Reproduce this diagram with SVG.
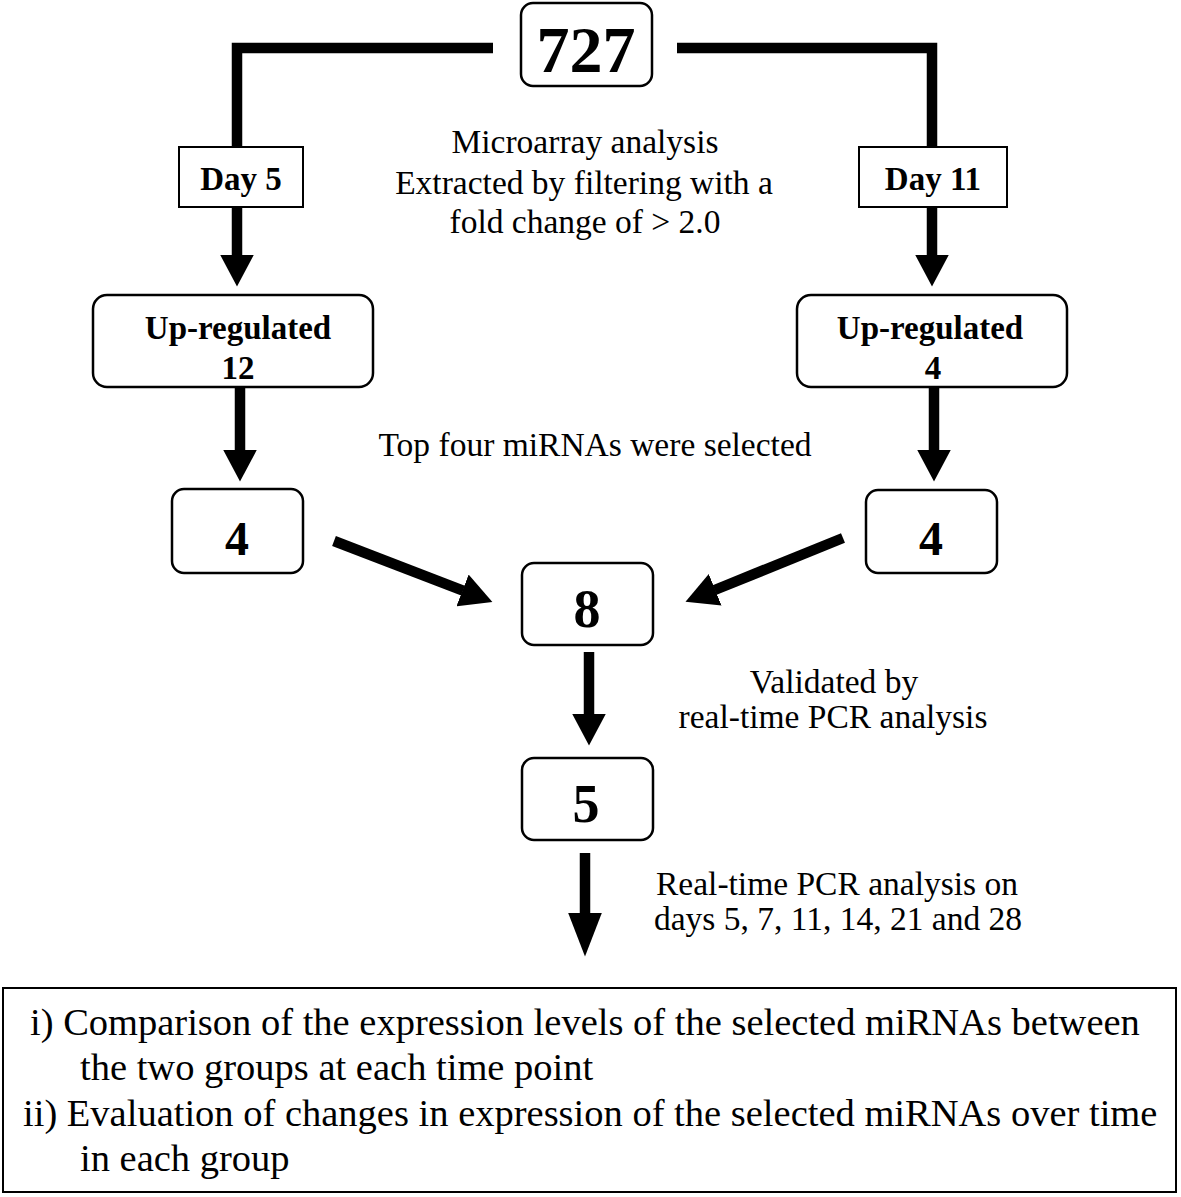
<svg xmlns="http://www.w3.org/2000/svg" width="1181" height="1197" viewBox="0 0 1181 1197">
<style>
.box{fill:#fff;stroke:#000;stroke-width:2.5}
.sq{fill:#fff;stroke:#000;stroke-width:2}
.b{font-family:"Liberation Serif","Times New Roman",serif;font-weight:bold;fill:#000;text-anchor:middle}
.r{font-family:"Liberation Serif","Times New Roman",serif;fill:#000;font-size:33.5px;text-anchor:middle}
.bt{font-family:"Liberation Serif","Times New Roman",serif;fill:#000;font-size:38.5px}
.ln{fill:none;stroke:#000;stroke-width:10.5;stroke-linejoin:miter}
.ar{fill:none;stroke:#000;stroke-width:10.5;marker-end:url(#ah)}
.arL{fill:none;stroke:#000;stroke-width:10.5;marker-end:url(#ahL)}
</style>
<defs>
<marker id="ah" markerUnits="userSpaceOnUse" viewBox="0 0 32 34" markerWidth="32" markerHeight="34" refX="0.5" refY="17" orient="auto"><path d="M0,0 L32,17 L0,34 Z" fill="#000"/></marker>
<marker id="ahL" markerUnits="userSpaceOnUse" viewBox="0 0 44 34" markerWidth="44" markerHeight="34" refX="0.5" refY="17" orient="auto"><path d="M0,0 L44,17 L0,34 Z" fill="#000"/></marker>
</defs>
<rect width="1181" height="1197" fill="#fff"/>
<g id="connectors">
<path class="ln" d="M493,48 H237 V147"/>
<path class="ln" d="M677,48 H932 V147"/>
<line class="ar" x1="237" y1="207" x2="237" y2="255"/>
<line class="ar" x1="932" y1="207" x2="932" y2="255"/>
<line class="ar" x1="240" y1="387" x2="240" y2="450"/>
<line class="ar" x1="934" y1="387" x2="934" y2="450"/>
<line class="ar" x1="334" y1="541" x2="463" y2="590.6"/>
<line class="ar" x1="843" y1="538" x2="714.7" y2="590"/>
<line class="ar" x1="589" y1="652" x2="589" y2="714"/>
<line class="arL" x1="585" y1="853" x2="585" y2="913"/>
</g>
<g id="node-727"><rect class="box" x="521" y="3" width="131" height="83" rx="12"/><text class="b" x="586" y="72" font-size="66">727</text></g>
<g id="node-day5"><rect class="sq" x="179" y="147" width="124" height="60"/><text class="b" x="241" y="190" font-size="33">Day 5</text></g>
<g id="node-day11"><rect class="sq" x="859" y="147" width="148" height="60"/><text class="b" x="933" y="190" font-size="33">Day 11</text></g>
<g id="node-up12"><rect class="box" x="93" y="295" width="280" height="92" rx="14"/><text class="b" x="238" y="339" font-size="33">Up-regulated</text><text class="b" x="238" y="379" font-size="33">12</text></g>
<g id="node-up4"><rect class="box" x="797" y="295" width="270" height="92" rx="14"/><text class="b" x="930" y="339" font-size="33">Up-regulated</text><text class="b" x="933" y="379" font-size="33">4</text></g>
<g id="node-4left"><rect class="box" x="172" y="489" width="131" height="84" rx="12"/><text class="b" x="237" y="555" font-size="48">4</text></g>
<g id="node-4right"><rect class="box" x="866" y="490" width="131" height="83" rx="12"/><text class="b" x="931" y="555" font-size="48">4</text></g>
<g id="node-8"><rect class="box" x="522" y="563" width="131" height="82" rx="12"/><text class="b" x="587" y="627" font-size="54">8</text></g>
<g id="node-5"><rect class="box" x="522" y="758" width="131" height="82" rx="12"/><text class="b" x="586" y="822" font-size="54">5</text></g>
<g id="labels">
<text class="r" x="585" y="153">Microarray analysis</text>
<text class="r" x="584" y="194">Extracted by filtering with a</text>
<text class="r" x="585" y="233">fold change of &gt; 2.0</text>
<text class="r" x="595" y="456">Top four miRNAs were selected</text>
<text class="r" x="834" y="693">Validated by</text>
<text class="r" x="833" y="728">real-time PCR analysis</text>
<text class="r" x="837" y="895">Real-time PCR analysis on</text>
<text class="r" x="838" y="930">days 5, 7, 11, 14, 21 and 28</text>
</g>
<g id="node-result">
<rect class="sq" x="3" y="988" width="1173" height="204"/>
<text class="bt" x="30" y="1035">i) Comparison of the expression levels of the selected miRNAs between</text>
<text class="bt" x="80" y="1080">the two groups at each time point</text>
<text class="bt" x="23" y="1126">ii) Evaluation of changes in expression of the selected miRNAs over time</text>
<text class="bt" x="80" y="1171">in each group</text>
</g>
</svg>
